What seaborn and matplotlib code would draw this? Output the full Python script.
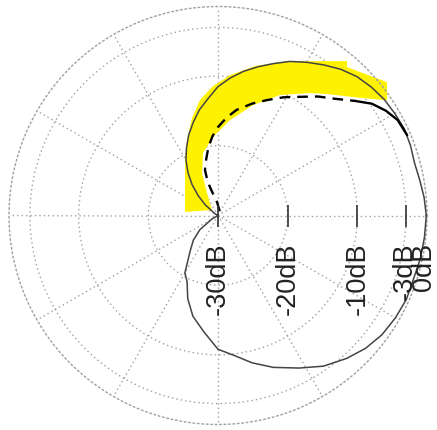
import numpy as np
import matplotlib
matplotlib.use("Agg")
import matplotlib.pyplot as plt
import seaborn as sns

# Measured response (angle in degrees, level in dB)
meas_angle = [0, 5, 10, 15, 20, 25, 30, 35, 40, 45, 50, 55, 60, 65, 70, 75, 80, 85,
              90, 95, 100, 105, 110, 115, 120, 125, 130, 135, 140, 150, 160, 180,
              200, 210, 218, 225, 232, 240, 245, 250, 256, 263, 270, 277, 283, 290,
              298, 305, 312, 318, 324, 330, 336, 342, 348, 354, 360]
meas_db = [-0.1, -0.3, -0.6, -0.8, -0.6, -0.5, -0.7, -0.9, -1.3, -1.8, -2.6, -3.6,
           -4.6, -5.6, -6.8, -7.9, -9.0, -10.2, -11.5, -13.2, -14.6, -16.2, -17.7,
           -19.3, -20.8, -22.5, -24.2, -26.0, -27.6, -29.5, -30.0, -30.0, -30.0,
           -29.0, -26.7, -25.0, -23.5, -20.5, -19.5, -17.3, -15.1, -13.2, -10.8,
           -9.7, -8.3, -6.8, -5.2, -3.6, -2.4, -1.5, -0.9, -0.6, -0.4, -0.5, -0.3,
           -0.2, -0.1]

# Reference (dashed) response
ref_angle = [70, 94, 104, 107, 106, 102, 98, 94, 90, 85, 80, 73, 67, 61, 55, 50, 45,
             40, 36, 32, 28, 23]
ref_db = [-29.3, -28.1, -26.5, -25.0, -23.2, -21.8, -20.1, -18.6, -17.3, -15.9, -14.6,
          -13.2, -12.0, -10.6, -9.2, -7.7, -6.3, -4.4, -2.7, -1.6, -0.8, -0.5]

# Highlighted region outline (angle in degrees, level in dB)
band_angle = [173.9, 120.7, 112.3, 104.9, 98.9, 92.2, 85.1, 76.1, 65.9, 50.1, 49.0,
              38.3, 34.3, 39.0, 48.1, 53.1, 62.8, 72.4, 82.8, 93.6, 103.5, 110.6,
              116.1, 137.5]
band_db = [-25.24, -20.73, -18.29, -15.52, -13.23, -11.41, -9.77, -7.90, -5.72, -1.12,
           -1.78, 0.90, -0.63, -3.23, -6.58, -8.02, -10.56, -13.37, -16.19, -18.71,
           -20.78, -23.49, -26.41, -28.83]

# Radial scale labels
ring_db = [-30, -20, -10, -3, 0]
ring_labels = ["-30dB", "-20dB", "-10dB", "-3dB", "0dB"]
label_shift = [0, 0, 0, -1, -3]
tick_db = [-30, -20, -10, -3]

sns.set_style("white")
plt.rcParams["font.family"] = ["Liberation Sans", "DejaVu Sans"]

fig = plt.figure(figsize=(4.37, 4.30), dpi=100)
ax = fig.add_axes([9 / 437, 5.5 / 430, 418 / 437, 418 / 430], projection="polar")
ax.set_ylim(-30, 0)

grid_style = dict(color="#a0a0a0", linewidth=1.0, linestyle=(0, (1, 2.2)))
ax.set_thetagrids(np.arange(0, 360, 30), labels=[])
ax.set_rgrids([-20, -10, -3], labels=[])
ax.grid(True, **grid_style)
ax.spines["polar"].set_color("#a0a0a0")
ax.spines["polar"].set_linewidth(1.0)
ax.spines["polar"].set_linestyle((0, (1, 2.2)))
ax.tick_params(length=0)
ax.set_facecolor("white")

# Highlighted band
ax.fill(np.deg2rad(band_angle), band_db, color="#fff200", linewidth=0,
        zorder=2, clip_on=False)

# Measured curve
sns.lineplot(x=np.deg2rad(meas_angle), y=meas_db, sort=False, estimator=None,
             color="#444444", linewidth=1.1, ax=ax, zorder=3, clip_on=False)

# Reference curve: dashed, solid where it meets the measured curve
n_dash = 18
sns.lineplot(x=np.deg2rad(ref_angle[:n_dash]), y=ref_db[:n_dash], sort=False,
             estimator=None, color="black", linewidth=1.7,
             linestyle=(0, (4.5, 3)), ax=ax, zorder=4)
sns.lineplot(x=np.deg2rad(ref_angle[n_dash - 1:]), y=ref_db[n_dash - 1:], sort=False,
             estimator=None, color="black", linewidth=1.7, ax=ax, zorder=4)

# Radial ticks and labels along the 0 degree direction
ax.plot(np.zeros(len(tick_db)), tick_db, linestyle="none", marker="|",
        markersize=16, markeredgewidth=1.2, color="#333333", zorder=5, clip_on=False)
for r, lab, dx in zip(ring_db, ring_labels, label_shift):
    ax.annotate(lab, xy=(0, r), xytext=(dx, -27), textcoords="offset pixels",
                rotation=90, ha="center", va="top", fontsize=19.5, color="#222222",
                zorder=6, annotation_clip=False)

ax.set_xlabel("")
ax.set_ylabel("")

fig.savefig("out.png", dpi=100)
